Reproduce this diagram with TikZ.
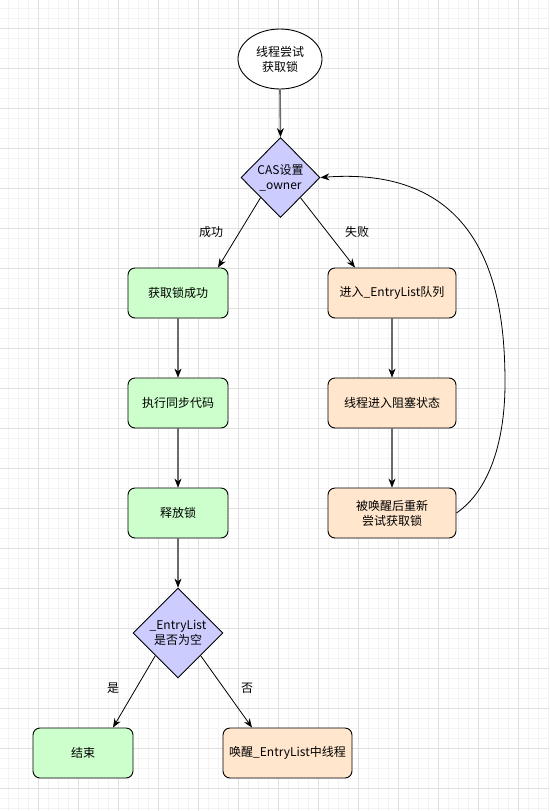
\documentclass[tikz,border=0pt]{standalone}
\usepackage{fontspec}
\setmainfont{Noto Sans CJK SC}
\usetikzlibrary{shapes.geometric,arrows.meta,calc}
\definecolor{gfill}{HTML}{CCFFCC}
\definecolor{ofill}{HTML}{FFE6CC}
\definecolor{pfill}{HTML}{CCCCFF}
\definecolor{gridmajor}{HTML}{E0E0E0}
\definecolor{gridminor}{HTML}{F3F3F3}
\tikzset{
  box/.style={draw=black, line width=0.9pt, rounded corners=7pt, minimum height=50pt, inner sep=2pt, align=center, font=\fontsize{12}{15}\selectfont},
  gbox/.style={box, fill=gfill, minimum width=100pt},
  obox/.style={box, fill=ofill, minimum width=128pt},
  dia/.style={diamond, draw=black, line width=0.9pt, fill=pfill, inner sep=0pt, align=center, font=\fontsize{12}{15}\selectfont},
  arr/.style={-{Stealth[length=9pt,width=7pt,inset=3pt,black]}, line width=0.8pt, black},
  varr/.style={-{Stealth[length=9pt,width=7pt,inset=3pt,black,line width=0.6pt]}, line width=1.6pt, black!58},
  lbl/.style={font=\fontsize{12}{15}\selectfont, inner sep=0pt}
}
\begin{document}
\begin{tikzpicture}[x=1pt,y=-1pt]
\useasboundingbox (0,0) rectangle (549,811);
\fill[white] (0,0) rectangle (549,811);
% grid
\foreach \k in {0,...,55} {\draw[gridminor, line width=0.8pt] (8+10*\k,0) -- (8+10*\k,811);}
\foreach \k in {0,...,81} {\draw[gridminor, line width=0.8pt] (0,8+10*\k) -- (549,8+10*\k);}
\foreach \k in {0,...,13} {\draw[gridmajor, line width=0.9pt] (38+40*\k,0) -- (38+40*\k,811);}
\foreach \k in {0,...,19} {\draw[gridmajor, line width=0.9pt] (0,28+40*\k) -- (549,28+40*\k);}

% nodes
\node[ellipse, draw=black, line width=0.9pt, fill=white, minimum width=84pt, minimum height=60pt, inner sep=0pt, align=center, font=\fontsize{12}{15}\selectfont] (e0) at (280,59) {线程尝试\\获取锁};
\node[dia, minimum width=79pt, minimum height=80pt] (d1) at (280.5,177.5) {CAS设置\\\_owner};
\node[gbox] (b1) at (178,293) {获取锁成功};
\node[gbox] (b2) at (178,403) {执行同步代码};
\node[gbox] (b3) at (178,513) {释放锁};
\node[obox] (r1) at (392,293) {进入\_EntryList队列};
\node[obox] (r2) at (392,403) {线程进入阻塞状态};
\node[obox] (r3) at (392,513) {被唤醒后重新\\尝试获取锁};
\node[dia, minimum width=90pt, minimum height=90pt] (d2) at (178,633) {\_EntryList\\是否为空};
\node[gbox] (fin) at (83,753) {结束};
\node[obox, minimum width=129pt] (wake) at (287.5,753) {唤醒\_EntryList中线程};

% labels
\node[lbl] (l1) at (211,232) {成功};
\node[lbl] (l2) at (357,232) {失败};
\node[lbl] (l3) at (113,688) {是};
\node[lbl] (l4) at (247,688) {否};

% connectors
\draw[varr] (e0.south) -- (d1.north);
\draw[arr] ($(d1.west)!0.5!(d1.south)$) -- ([xshift=40pt]b1.north);
\draw[arr] ($(d1.east)!0.5!(d1.south)$) -- ([xshift=-37pt]r1.north);
\draw[varr] (b1.south) -- (b2.north);
\draw[varr] (b2.south) -- (b3.north);
\draw[varr] (b3.south) -- (d2.north);
\draw[varr] (r1.south) -- (r2.north);
\draw[varr] (r2.south) -- (r3.north);
\coordinate (loop) at (505,383);
\draw[arr] (r3.east) .. controls (490,490) and (505,440) .. (loop) .. controls (505,300) and (490,165) .. (d1.east);
\draw[arr] ($(d2.west)!0.5!(d2.south)$) -- ([xshift=30pt]fin.north);
\draw[arr] ($(d2.east)!0.5!(d2.south)$) -- ([xshift=-35.5pt]wake.north);
\end{tikzpicture}
\end{document}
